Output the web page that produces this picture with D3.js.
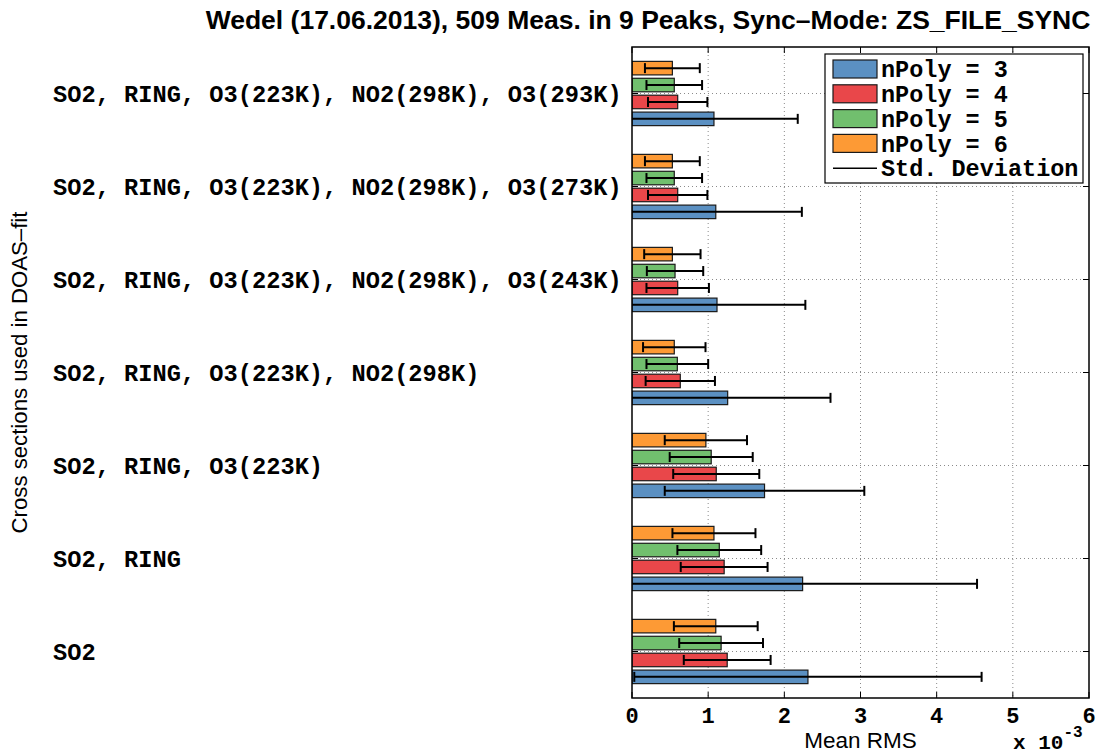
<!DOCTYPE html>
<html>
<head>
<meta charset="utf-8">
<script src="https://cdn.jsdelivr.net/npm/d3@7"></script>
<style>
  html, body { margin: 0; padding: 0; background: #fff; }
  svg { display: block; }
</style>
</head>
<body>
<svg id="chart" width="1100" height="756"></svg>
<script>
// Fit configurations (bottom to top on the y axis)
const categories = [
  "SO2",
  "SO2, RING",
  "SO2, RING, O3(223K)",
  "SO2, RING, O3(223K), NO2(298K)",
  "SO2, RING, O3(223K), NO2(298K), O3(243K)",
  "SO2, RING, O3(223K), NO2(298K), O3(273K)",
  "SO2, RING, O3(223K), NO2(298K), O3(293K)"
];

// Polynomial orders compared in each group
const seriesNames = ["nPoly = 3", "nPoly = 4", "nPoly = 5", "nPoly = 6"];
const seriesColors = ["#5b90c2", "#e9474a", "#71bf6e", "#fd9a35"];

// Mean RMS per configuration, in units of 1e-3
const meanPoly3 = [2.31, 2.24, 1.74, 1.256, 1.116, 1.10, 1.076];
const meanPoly4 = [1.25, 1.21, 1.106, 0.634, 0.60, 0.60, 0.60];
const meanPoly5 = [1.17, 1.146, 1.04, 0.595, 0.565, 0.555, 0.555];
const meanPoly6 = [1.10, 1.076, 0.97, 0.555, 0.53, 0.53, 0.53];

// Standard deviation of the RMS, in units of 1e-3
const stdPoly3 = [2.28, 2.29, 1.31, 1.35, 1.16, 1.13, 1.10];
const stdPoly4 = [0.57, 0.57, 0.565, 0.455, 0.41, 0.39, 0.39];
const stdPoly5 = [0.55, 0.55, 0.545, 0.405, 0.37, 0.365, 0.365];
const stdPoly6 = [0.55, 0.545, 0.54, 0.41, 0.37, 0.36, 0.36];

const xTicks = [0, 1, 2, 3, 4, 5, 6];

const means = [meanPoly3, meanPoly4, meanPoly5, meanPoly6];
const stds = [stdPoly3, stdPoly4, stdPoly5, stdPoly6];

const svg = d3.select("#chart");
const plot = { left: 632, right: 1089, top: 47, bottom: 698 };

const x = d3.scaleLinear().domain([0, 6]).range([plot.left, plot.right]);
const y = d3.scaleLinear().domain([0.5, categories.length + 0.5]).range([plot.bottom, plot.top]);

// Grouped bar geometry: group width and bar thickness in category units
const nSeries = seriesNames.length;
const groupWidth = Math.min(0.8, nSeries / (nSeries + 1.5));
const slot = groupWidth / nSeries;
const barThick = slot * 0.8;
const offsetOf = s => -groupWidth / 2 + slot * (s + 0.5);

const monoFont = "'Liberation Mono', 'Courier New', monospace";
const sansFont = "'Liberation Sans', Arial, Helvetica, sans-serif";

svg.append("defs").append("clipPath").attr("id", "plotClip")
  .append("rect")
  .attr("x", plot.left).attr("y", plot.top)
  .attr("width", plot.right - plot.left).attr("height", plot.bottom - plot.top);

// Dotted grid
const grid = svg.append("g").attr("stroke", "#8a8a8a").attr("stroke-width", 1)
  .attr("stroke-dasharray", "1,3");
grid.selectAll("line.vx").data(xTicks.slice(1, -1)).join("line")
  .attr("x1", d => x(d)).attr("x2", d => x(d))
  .attr("y1", plot.top).attr("y2", plot.bottom);
grid.selectAll("line.hy").data(d3.range(1, categories.length + 1)).join("line")
  .attr("x1", plot.left).attr("x2", plot.right)
  .attr("y1", d => y(d)).attr("y2", d => y(d));

// Bars
const bars = svg.append("g").attr("clip-path", "url(#plotClip)");
means.forEach((vals, s) => {
  const yy = (i) => y(i + 1 + offsetOf(s));
  const h = y(0) - y(barThick);
  bars.append("g").selectAll("rect").data(vals).join("rect")
    .attr("x", x(0))
    .attr("y", (d, i) => yy(i) - h / 2)
    .attr("width", d => x(d) - x(0))
    .attr("height", h)
    .attr("fill", seriesColors[s])
    .attr("stroke", "#1a1a1a")
    .attr("stroke-width", 1.2);
});

// Error bars: mean ± std
const err = svg.append("g").attr("clip-path", "url(#plotClip)")
  .attr("stroke", "#000").attr("stroke-width", 2).attr("fill", "none");
means.forEach((vals, s) => {
  const sd = stds[s];
  const capH = 5;
  vals.forEach((m, i) => {
    const cy = y(i + 1 + offsetOf(s));
    const lo = m - sd[i], hi = m + sd[i];
    err.append("line").attr("x1", x(lo)).attr("x2", x(hi)).attr("y1", cy).attr("y2", cy);
    err.append("line").attr("x1", x(lo)).attr("x2", x(lo)).attr("y1", cy - capH).attr("y2", cy + capH);
    err.append("line").attr("x1", x(hi)).attr("x2", x(hi)).attr("y1", cy - capH).attr("y2", cy + capH);
  });
});

// Frame and inward ticks
const tickLen = 6;
const frame = svg.append("g").attr("stroke", "#000").attr("fill", "none");
frame.append("rect")
  .attr("x", plot.left).attr("y", plot.top)
  .attr("width", plot.right - plot.left).attr("height", plot.bottom - plot.top)
  .attr("stroke-width", 1.5);
frame.selectAll("line.bt").data(xTicks).join("line")
  .attr("x1", d => x(d)).attr("x2", d => x(d))
  .attr("y1", plot.bottom).attr("y2", plot.bottom - tickLen).attr("stroke-width", 1);
frame.selectAll("line.tt").data(xTicks).join("line")
  .attr("x1", d => x(d)).attr("x2", d => x(d))
  .attr("y1", plot.top).attr("y2", plot.top + tickLen).attr("stroke-width", 1);
frame.selectAll("line.lt").data(d3.range(1, categories.length + 1)).join("line")
  .attr("x1", plot.left).attr("x2", plot.left + tickLen)
  .attr("y1", d => y(d)).attr("y2", d => y(d)).attr("stroke-width", 1);
frame.selectAll("line.rt").data(d3.range(1, categories.length + 1)).join("line")
  .attr("x1", plot.right).attr("x2", plot.right - tickLen)
  .attr("y1", d => y(d)).attr("y2", d => y(d)).attr("stroke-width", 1);

// X tick labels
svg.append("g").selectAll("text").data(xTicks).join("text")
  .attr("x", d => x(d)).attr("y", plot.bottom + 25)
  .attr("text-anchor", "middle")
  .attr("font-family", monoFont).attr("font-weight", "bold").attr("font-size", 22)
  .text(d => d);

// Exponent multiplier
const mult = svg.append("text")
  .attr("x", 1013).attr("y", 749)
  .attr("font-family", monoFont).attr("font-weight", "bold").attr("font-size", 21);
mult.append("tspan").text("x 10");
mult.append("tspan").attr("dy", -12).attr("font-size", 16).text("-3");

// Y tick labels (left aligned block, monospaced)
svg.append("g").selectAll("text").data(categories).join("text")
  .attr("x", 53).attr("y", (d, i) => y(i + 1))
  .attr("dy", "0.35em")
  .attr("font-family", monoFont).attr("font-weight", "bold").attr("font-size", 23.7)
  .text(d => d);

// Axis titles
svg.append("text")
  .attr("x", (plot.left + plot.right) / 2).attr("y", 748)
  .attr("text-anchor", "middle")
  .attr("font-family", sansFont).attr("font-size", 22.5)
  .text("Mean RMS");

svg.append("text")
  .attr("transform", `translate(27, ${(plot.top + plot.bottom) / 2}) rotate(-90)`)
  .attr("text-anchor", "middle")
  .attr("font-family", sansFont).attr("font-size", 22.2)
  .text("Cross sections used in DOAS–fit");

// Chart title
svg.append("text")
  .attr("x", 648).attr("y", 29)
  .attr("text-anchor", "middle")
  .attr("font-family", sansFont).attr("font-weight", "bold").attr("font-size", 26.5)
  .text("Wedel (17.06.2013), 509 Meas. in 9 Peaks, Sync–Mode: ZS_FILE_SYNC");

// Legend
const lg = { x: 825, y: 54, w: 258, h: 129 };
const legend = svg.append("g");
legend.append("rect")
  .attr("x", lg.x).attr("y", lg.y).attr("width", lg.w).attr("height", lg.h)
  .attr("fill", "#fff").attr("stroke", "#000").attr("stroke-width", 1.2);
const rowY = i => lg.y + 15 + i * 24.8;
const entries = legend.selectAll("g.entry").data(seriesNames).join("g");
entries.append("rect")
  .attr("x", lg.x + 8).attr("y", (d, i) => rowY(i) - 9)
  .attr("width", 44).attr("height", 18)
  .attr("fill", (d, i) => seriesColors[i])
  .attr("stroke", "#1a1a1a").attr("stroke-width", 1.2);
entries.append("text")
  .attr("x", lg.x + 56).attr("y", (d, i) => rowY(i))
  .attr("dy", "0.35em")
  .attr("font-family", monoFont).attr("font-weight", "bold").attr("font-size", 23.5)
  .text(d => d);
legend.append("line")
  .attr("x1", lg.x + 8).attr("x2", lg.x + 52)
  .attr("y1", rowY(4)).attr("y2", rowY(4))
  .attr("stroke", "#000").attr("stroke-width", 1.5);
legend.append("text")
  .attr("x", lg.x + 56).attr("y", rowY(4))
  .attr("dy", "0.35em")
  .attr("font-family", monoFont).attr("font-weight", "bold").attr("font-size", 23.5)
  .text("Std. Deviation");
</script>
</body>
</html>
